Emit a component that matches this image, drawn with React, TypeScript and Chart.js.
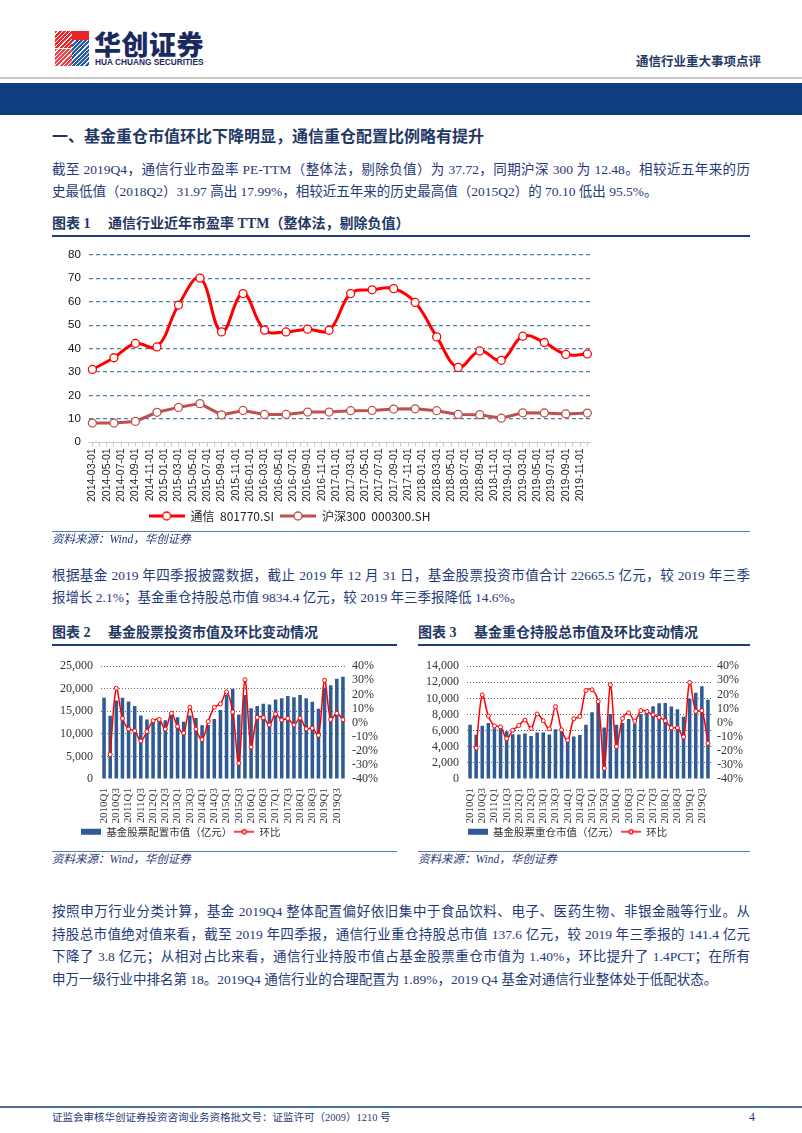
import React, { useEffect, useRef } from 'react';
import { Chart, registerables } from 'chart.js';
Chart.register(...registerables);

// ---------- Chart 1 data ----------
const peQuarterDates = [
  '2014-03-01', '2014-06-01', '2014-09-01', '2014-12-01',
  '2015-03-01', '2015-06-01', '2015-09-01', '2015-12-01',
  '2016-03-01', '2016-06-01', '2016-09-01', '2016-12-01',
  '2017-03-01', '2017-06-01', '2017-09-01', '2017-12-01',
  '2018-03-01', '2018-06-01', '2018-09-01', '2018-12-01',
  '2019-03-01', '2019-06-01', '2019-09-01', '2019-12-01',
];
const telecomPE = [31.1, 36.1, 42.2, 40.7, 58.6, 70.1, 47.1, 63.5, 47.9, 47.1, 48.3, 47.8,
  63.5, 65.1, 65.6, 59.7, 45.0, 31.97, 39.0, 35.0, 45.3, 42.6, 37.5, 37.72];
const hs300PE = [8.2, 8.2, 8.9, 12.8, 14.9, 16.5, 11.7, 13.6, 11.9, 11.9, 12.9, 12.9,
  13.5, 13.6, 14.2, 14.3, 13.5, 11.9, 11.8, 10.3, 12.6, 12.5, 12.1, 12.48];
const telecomName = '通信  801770.SI';
const hs300Name = '沪深300  000300.SH';

// monthly category axis 2014-03 .. 2019-12 (ticks shown every 2 months)
const monthTicks: string[] = [];
for (let y = 2014; y <= 2019; y++) {
  for (let m = 1; m <= 12; m++) {
    if (y === 2014 && m < 3) continue;
    monthTicks.push(`${y}-${String(m).padStart(2, '0')}-01`);
  }
}

// ---------- Chart 2 / 3 data ----------
const quarters = [
  '2010Q1', '2010Q2', '2010Q3', '2010Q4', '2011Q1', '2011Q2', '2011Q3', '2011Q4',
  '2012Q1', '2012Q2', '2012Q3', '2012Q4', '2013Q1', '2013Q2', '2013Q3', '2013Q4',
  '2014Q1', '2014Q2', '2014Q3', '2014Q4', '2015Q1', '2015Q2', '2015Q3', '2015Q4',
  '2016Q1', '2016Q2', '2016Q3', '2016Q4', '2017Q1', '2017Q2', '2017Q3', '2017Q4',
  '2018Q1', '2018Q2', '2018Q3', '2018Q4', '2019Q1', '2019Q2', '2019Q3', '2019Q4',
];
const fundStockValue = [18000, 14000, 17400, 18000, 17200, 16200, 14100, 13200,
  13300, 13500, 13000, 14600, 13700, 12700, 14100, 13500,
  11900, 12000, 13300, 15300, 18600, 20000, 14300, 18600,
  15700, 16200, 16700, 16500, 17600, 17900, 18400, 18100,
  18600, 17900, 17100, 15600, 20300, 20800, 22200, 22665.5];
const fundStockQoQ = [null, -22.6, 24.4, 3.0, -4.6, -5.8, -13.0, -6.3,
  1.3, 2.3, -4.6, 6.6, -2.7, -7.3, 10.9, -4.6,
  -12.0, 0.8, 10.9, 13.2, 21.8, 7.5, -28.8, 30.4,
  -17.3, 3.7, 3.5, -1.6, 6.1, 1.8, 3.0, -1.6,
  3.2, -4.4, -3.9, -9.0, 30.0, 2.3, 6.6, 2.1];
const heavyValue = [6730, 5500, 6600, 6940, 6300, 6310, 5940, 5560,
  5520, 5640, 5350, 5770, 5770, 5520, 6190, 5980,
  4720, 5270, 5480, 6730, 8280, 9530, 6400, 8070,
  6730, 6940, 7440, 6900, 8070, 8610, 9030, 9400,
  9450, 8990, 8650, 7730, 9950, 10700, 11500, 9834.4];
const heavyQoQ = [null, -18.0, 19.7, 4.7, -2.3, -3.0, -11.3, -5.4,
  -2.0, 1.8, -4.2, 6.1, 1.3, -4.4, 11.3, -5.1,
  -12.5, 2.7, 4.4, 22.8, 23.3, 14.9, -32.3, 26.8,
  -17.0, 3.0, 7.0, 1.1, 8.5, 7.8, 5.6, 3.7,
  1.3, -3.7, -3.7, -10.1, 28.5, 8.0, 8.5, -14.6];
const fundStockName = '基金股票配置市值（亿元）';
const heavyName = '基金股票重仓市值（亿元）';
const qoqName = '环比';

// ---------- styles ----------
const TEXT_BLUE = '#1F3A78';
const NAVY = '#1F3864';
const SERIF = "'Liberation Serif', 'Noto Sans CJK SC', serif";
const BAR_BLUE = '#2F5A94';

function lineIcon(color: string, w: number, lw: number, r: number) {
  const c = document.createElement('canvas');
  c.width = w; c.height = 12;
  const g = c.getContext('2d')!;
  g.strokeStyle = color; g.lineWidth = lw;
  g.beginPath(); g.moveTo(0, 6); g.lineTo(w, 6); g.stroke();
  g.beginPath(); g.arc(w / 2, 6, r, 0, Math.PI * 2);
  g.fillStyle = '#fff'; g.fill(); g.lineWidth = 1.3; g.stroke();
  return c;
}
function rectIcon(color: string, w: number, h: number) {
  const c = document.createElement('canvas');
  c.width = w; c.height = 12;
  const g = c.getContext('2d')!;
  g.fillStyle = color; g.fillRect(0, 6 - h / 2, w, h);
  return c;
}
function blankIcon() {
  const c = document.createElement('canvas');
  c.width = 1; c.height = 1;
  return c;
}
// invisible trailing legend entry used to shift the visible entries left (as in the original layout)
function spacerItem(n: number) {
  return {
    text: '\u00A0'.repeat(n), fillStyle: 'rgba(0,0,0,0)', strokeStyle: 'rgba(0,0,0,0)', lineWidth: 0,
    hidden: false, pointStyle: blankIcon(), datasetIndex: 99, fontColor: 'rgba(0,0,0,0)',
  };
}

function ChartBox(props: { left: number; top: number; width: number; height: number; build: () => any }) {
  const ref = useRef<HTMLCanvasElement>(null);
  useEffect(() => {
    const chart = new Chart(ref.current!, props.build());
    return () => chart.destroy();
  }, []);
  return (
    <div style={{ position: 'absolute', left: props.left, top: props.top, width: props.width, height: props.height }}>
      <canvas ref={ref} width={props.width} height={props.height} style={{ width: props.width, height: props.height, display: 'block' }} />
    </div>
  );
}

function buildPE() {
  const icons = [lineIcon('#FF0000', 36, 3, 4), lineIcon('#C0504D', 36, 3, 4)];
  return {
    type: 'line',
    data: {
      labels: monthTicks,
      datasets: [
        {
          label: telecomName,
          data: peQuarterDates.map((d, i) => ({ x: d, y: telecomPE[i] })),
          borderColor: '#FF0000', borderWidth: 3, tension: 0.4,
          pointRadius: 4, pointBackgroundColor: '#fff', pointBorderColor: '#FF0000', pointBorderWidth: 1.3,
        },
        {
          label: hs300Name,
          data: peQuarterDates.map((d, i) => ({ x: d, y: hs300PE[i] })),
          borderColor: '#C0504D', borderWidth: 3, tension: 0,
          pointRadius: 4, pointBackgroundColor: '#fff', pointBorderColor: '#C0504D', pointBorderWidth: 1.3,
        },
      ],
    },
    options: {
      animation: false, responsive: false, devicePixelRatio: 1,
      layout: { padding: { left: 8, right: 8, top: 6, bottom: 0 } },
      scales: {
        x: {
          type: 'category', offset: true,
          grid: { display: true, drawOnChartArea: false, tickLength: 4, color: '#C8C8C8' },
          border: { color: '#C8C8C8' },
          ticks: {
            autoSkip: false, maxRotation: 90, minRotation: 90, padding: 2,
            font: { size: 10.5, family: "'Liberation Sans', Arial" }, color: '#222',
            callback: (_v: any, i: number) => (i % 2 === 0 ? monthTicks[i] : ''),
          },
        },
        y: {
          min: 0, max: 80,
          ticks: { stepSize: 10, autoSkip: false, font: { size: 11.5, family: "'Liberation Sans', Arial" }, color: '#111', padding: 8 },
          grid: { color: (c: any) => (c.tick && c.tick.value === 0 ? 'rgba(0,0,0,0)' : '#4F7FA8'), lineWidth: 1.3, drawTicks: false },
          border: { display: false, dash: [4, 3] },
        },
      },
      plugins: {
        tooltip: { enabled: false },
        legend: {
          position: 'bottom',
          labels: {
            usePointStyle: true, boxWidth: 36, pointStyleWidth: 36, boxHeight: 12, padding: 6,
            font: { size: 12, family: "'Noto Sans CJK SC', 'Liberation Sans'" }, color: '#222',
            generateLabels: (chart: any) => {
              const base = Chart.defaults.plugins.legend.labels.generateLabels(chart);
              const items = base.map((l: any, i: number) => ({ ...l, pointStyle: icons[l.datasetIndex ?? i] }));
              return [...items, spacerItem(10)];
            },
          },
        },
      },
    },
  };
}

function buildCombo(values: number[], qoq: (number | null)[], barName: string, yMax: number, yStep: number, padRight: number, spacer: number) {
  const icons = [rectIcon(BAR_BLUE, 20, 6), lineIcon('#FF0000', 20, 1.5, 2)];
  return {
    type: 'bar',
    data: {
      labels: quarters,
      datasets: [
        {
          type: 'bar', label: barName, data: values, yAxisID: 'y', order: 2,
          backgroundColor: BAR_BLUE, barPercentage: 0.58, categoryPercentage: 1,
        },
        {
          type: 'line', label: qoqName, data: qoq, yAxisID: 'y1', order: 1,
          borderColor: '#FF0000', borderWidth: 1.5, tension: 0.35,
          pointRadius: 2, pointBackgroundColor: '#fff', pointBorderColor: '#FF0000', pointBorderWidth: 1,
        },
      ],
    },
    options: {
      animation: false, responsive: false, devicePixelRatio: 1,
      layout: { padding: { left: 0, right: padRight, top: 10, bottom: 0 } },
      scales: {
        x: {
          grid: { display: false },
          border: { display: false },
          ticks: {
            autoSkip: false, maxRotation: 90, minRotation: 90, padding: 1,
            font: { size: 11, family: "'Liberation Serif'" }, color: '#333',
            callback: (_v: any, i: number) => (i % 2 === 0 ? quarters[i] : ''),
          },
        },
        y: {
          min: 0, max: yMax, position: 'left',
          ticks: {
            stepSize: yStep, autoSkip: false, font: { size: 12, family: "'Liberation Serif'" }, color: '#333', padding: 8,
            callback: (v: number) => v.toLocaleString('en-US'),
          },
          grid: { color: (c: any) => (c.tick && c.tick.value === 0 ? 'rgba(0,0,0,0)' : '#666'), lineWidth: 1, drawTicks: false },
          border: { display: false, dash: [1, 2] },
        },
        y1: {
          min: -40, max: 40, position: 'right',
          ticks: { stepSize: 10, autoSkip: false, font: { size: 12, family: "'Liberation Serif'" }, color: '#333', padding: 6, callback: (v: number) => `${v}%` },
          grid: { display: false, drawTicks: false },
          border: { display: false },
        },
      },
      plugins: {
        tooltip: { enabled: false },
        legend: {
          position: 'bottom',
          labels: {
            usePointStyle: true, boxWidth: 20, pointStyleWidth: 20, boxHeight: 12, padding: 2,
            font: { size: 10.5, family: "'Noto Sans CJK SC'" }, color: '#333',
            sort: (a: any, b: any) => a.datasetIndex - b.datasetIndex,
            generateLabels: (chart: any) => {
              const base = Chart.defaults.plugins.legend.labels.generateLabels(chart);
              const items = base.map((l: any) => ({ ...l, pointStyle: icons[l.datasetIndex] }));
              return [...items, spacerItem(spacer)];
            },
          },
        },
      },
    },
  };
}

function TextLine(props: { top: number; left?: number; width?: number; text: string; justify?: boolean; style?: any }) {
  return (
    <div
      style={{
        position: 'absolute', left: props.left ?? 52, top: props.top, width: props.width ?? 698,
        fontSize: 13.5, lineHeight: '18px', height: 18, color: TEXT_BLUE, fontFamily: SERIF,
        whiteSpace: 'nowrap', textAlign: props.justify ? 'justify' : 'left',
        textAlignLast: props.justify ? 'justify' : 'left', ...(props.style || {}),
      }}
    >
      {props.text}
    </div>
  );
}

function FigTitle(props: { left: number; top: number; width: number; num: string; text: string }) {
  return (
    <>
      <div style={{ position: 'absolute', left: props.left, top: props.top, fontSize: 14, lineHeight: '18px', fontWeight: 'bold', color: NAVY, fontFamily: SERIF, whiteSpace: 'nowrap' }}>
        {`图表 ${props.num}`}
      </div>
      <div style={{ position: 'absolute', left: props.left + 56, top: props.top, fontSize: 14, lineHeight: '18px', fontWeight: 'bold', color: NAVY, fontFamily: SERIF, whiteSpace: 'nowrap' }}>
        {props.text}
      </div>
      <div style={{ position: 'absolute', left: props.left, top: props.top + 20, width: props.width, height: 1.5, background: '#1F3C7A' }} />
    </>
  );
}

function Source(props: { left: number; top: number; width: number }) {
  return (
    <>
      <div style={{ position: 'absolute', left: props.left, top: props.top, width: props.width, height: 1, background: '#5A7FA8' }} />
      <div style={{ position: 'absolute', left: props.left, top: props.top + 1, fontSize: 11.5, lineHeight: '14px', fontStyle: 'italic', color: TEXT_BLUE, fontFamily: SERIF, whiteSpace: 'nowrap' }}>
        资料来源：Wind，华创证券
      </div>
    </>
  );
}

export default function App() {
  return (
    <div style={{ position: 'absolute', left: 0, top: 0, width: 802, height: 1133, background: '#fff', overflow: 'hidden', fontFamily: SERIF }}>
      {/* Logo */}
      <div style={{ position: 'absolute', left: 55, top: 31, width: 17, height: 17, background: 'repeating-linear-gradient(135deg, #E8262A 0 2px, #fff 2px 3px)' }} />
      <div style={{ position: 'absolute', left: 55, top: 49, width: 17, height: 17, background: 'repeating-linear-gradient(135deg, #E8262A 0 2px, #fff 2px 3px)', opacity: 0.85 }} />
      <div style={{ position: 'absolute', left: 72, top: 40, width: 17, height: 26, background: 'repeating-linear-gradient(135deg, #2C5CA8 0 2px, #fff 2px 3px)' }} />
      <div style={{ position: 'absolute', left: 72, top: 31, width: 17, height: 9, background: '#E8262A' }} />
      <div style={{ position: 'absolute', left: 94, top: 28, fontSize: 27, lineHeight: '32px', fontWeight: 900, color: '#1A2A5E', fontFamily: "'Noto Sans CJK SC'", letterSpacing: 0.5, whiteSpace: 'nowrap' }}>
        华创证券
      </div>
      <div style={{ position: 'absolute', left: 95, top: 57, fontSize: 8.3, lineHeight: '10px', fontWeight: 'bold', color: '#1A2A5E', fontFamily: "'Liberation Sans'", whiteSpace: 'nowrap' }}>
        HUA CHUANG SECURITIES
      </div>
      <div style={{ position: 'absolute', left: 636, top: 54, fontSize: 12.5, lineHeight: '16px', fontWeight: 'bold', color: NAVY, fontFamily: SERIF, whiteSpace: 'nowrap' }}>
        通信行业重大事项点评
      </div>
      <div style={{ position: 'absolute', left: 0, top: 77, width: 802, height: 2, background: '#C9C9C9' }} />
      <div style={{ position: 'absolute', left: 0, top: 83, width: 802, height: 32, background: '#0E3D80' }} />

      {/* Section heading */}
      <div style={{ position: 'absolute', left: 52, top: 127, fontSize: 16, lineHeight: '20px', fontWeight: 'bold', color: NAVY, fontFamily: SERIF, whiteSpace: 'nowrap' }}>
        一、基金重仓市值环比下降明显，通信重仓配置比例略有提升
      </div>

      <TextLine top={161} justify text="截至 2019Q4，通信行业市盈率 PE-TTM（整体法，剔除负值）为 37.72，同期沪深 300 为 12.48。相较近五年来的历" />
      <TextLine top={183} text="史最低值（2018Q2）31.97 高出 17.99%，相较近五年来的历史最高值（2015Q2）的 70.10 低出 95.5%。" />

      <FigTitle left={52} top={215} width={698} num="1" text="通信行业近年市盈率 TTM（整体法，剔除负值）" />
      <ChartBox left={52} top={240} width={550} height={292} build={buildPE} />
      <Source left={52} top={531} width={698} />

      <TextLine top={567} justify text="根据基金 2019 年四季报披露数据，截止 2019 年 12 月 31 日，基金股票投资市值合计 22665.5 亿元，较 2019 年三季" />
      <TextLine top={589} text="报增长 2.1%；基金重仓持股总市值 9834.4 亿元，较 2019 年三季报降低 14.6%。" />

      <FigTitle left={52} top={624} width={345} num="2" text="基金股票投资市值及环比变动情况" />
      <FigTitle left={418} top={624} width={332} num="3" text="基金重仓持股总市值及环比变动情况" />
      <ChartBox left={52} top={651} width={345} height={196} build={() => buildCombo(fundStockValue, fundStockQoQ, fundStockName, 25000, 5000, 13, 20)} />
      <ChartBox left={418} top={651} width={335} height={196} build={() => buildCombo(heavyValue, heavyQoQ, heavyName, 14000, 2000, 4, 2)} />
      <Source left={52} top={851} width={345} />
      <Source left={418} top={851} width={332} />

      <TextLine top={903} justify text="按照申万行业分类计算，基金 2019Q4 整体配置偏好依旧集中于食品饮料、电子、医药生物、非银金融等行业。从" />
      <TextLine top={926} justify text="持股总市值绝对值来看，截至 2019 年四季报，通信行业重仓持股总市值 137.6 亿元，较 2019 年三季报的 141.4 亿元" />
      <TextLine top={948} justify text="下降了 3.8 亿元；从相对占比来看，通信行业持股市值占基金股票重仓市值为 1.40%，环比提升了 1.4PCT；在所有" />
      <TextLine top={971} text="申万一级行业中排名第 18。2019Q4 通信行业的合理配置为 1.89%，2019 Q4 基金对通信行业整体处于低配状态。" />

      {/* Footer */}
      <div style={{ position: 'absolute', left: 0, top: 1106, width: 802, height: 2, background: '#4A6E96' }} />
      <div style={{ position: 'absolute', left: 52, top: 1111, fontSize: 10.5, lineHeight: '13px', color: TEXT_BLUE, fontFamily: SERIF, whiteSpace: 'nowrap' }}>
        证监会审核华创证券投资咨询业务资格批文号：证监许可（2009）1210 号
      </div>
      <div style={{ position: 'absolute', left: 749, top: 1110, fontSize: 12, lineHeight: '14px', color: TEXT_BLUE, fontFamily: SERIF }}>4</div>
    </div>
  );
}
